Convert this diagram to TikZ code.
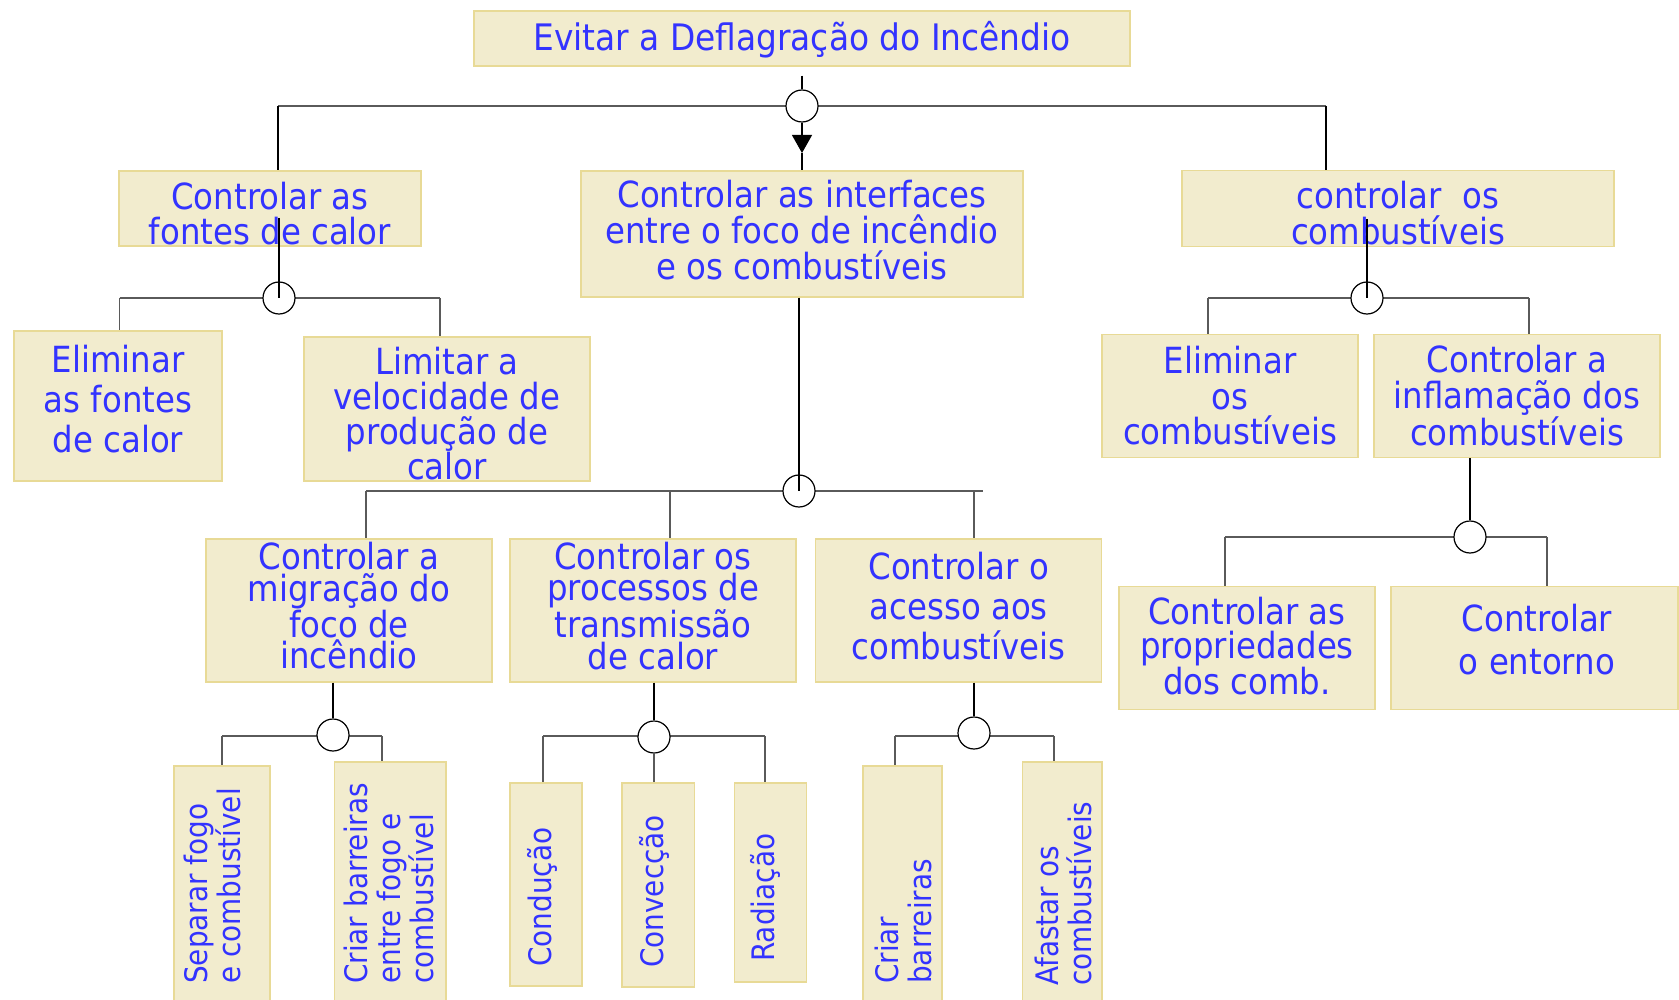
\documentclass[tikz,border=0pt]{standalone}
\usepackage{fontspec}
\newfontfamily\boxfont[FakeStretch=0.9]{DejaVu Sans}
\usetikzlibrary{arrows.meta}
\definecolor{boxfill}{RGB}{242,236,206}
\definecolor{boxline}{RGB}{232,218,150}
\definecolor{txtblue}{RGB}{51,51,255}
\definecolor{barcol}{RGB}{90,90,90}
\newcommand\boxsize[2]{\boxfont\fontsize{#1}{#2}\selectfont}

\begin{document}
\begin{tikzpicture}[x=1pt,y=-1pt,
  task/.style={draw=boxline,fill=boxfill,line width=1.2pt,inner sep=0pt},
  txt/.style={text=txtblue,align=center,inner sep=0pt},
  vtxt/.style={text=txtblue,align=left,inner sep=0pt,rotate=90,anchor=west,font=\boxsize{31}{33}},
  junc/.style={circle,draw,fill=white,line width=1.2pt,minimum size=32pt,inner sep=0pt},
  link/.style={line width=1.2pt},
  bar/.style={draw=barcol,line width=2pt},
  drop/.style={draw=barcol,line width=1.4pt}]
\useasboundingbox (0,0) rectangle (1679,1000);

\node[task,minimum width=656,minimum height=55] (top) at (802,38.5) {};
\node[task,minimum width=302,minimum height=75] (fontes) at (270,208.5) {};
\node[task,minimum width=208,minimum height=150] (elimfontes) at (118,406) {};
\node[task,minimum width=286,minimum height=144] (limitar) at (447,409) {};
\node[task,minimum width=442,minimum height=126] (interf) at (802,234) {};
\node[task,minimum width=432,minimum height=75.5] (comb) at (1398,208.5) {};
\node[task,minimum width=256,minimum height=123] (elimcomb) at (1230,396.2) {};
\node[task,minimum width=286,minimum height=123] (inflam) at (1517,396.2) {};
\node[task,minimum width=256,minimum height=123] (propr) at (1247,647.9) {};
\node[task,minimum width=287,minimum height=123] (entorno) at (1534.5,647.9) {};
\node[task,minimum width=286,minimum height=143] (migr) at (349,610.5) {};
\node[task,minimum width=286,minimum height=143] (transm) at (653,610.5) {};
\node[task,minimum width=286,minimum height=143] (acesso) at (958.7,610.5) {};
\node[task,minimum width=96,minimum height=238] (separar) at (222,885) {};
\node[task,minimum width=111.5,minimum height=242] (criarbar) at (390.25,883) {};
\node[task,minimum width=72,minimum height=203] (conducao) at (546,884.5) {};
\node[task,minimum width=72.5,minimum height=204] (conveccao) at (658.25,885) {};
\node[task,minimum width=72,minimum height=199] (radiacao) at (770.6,882.5) {};
\node[task,minimum width=79,minimum height=238] (barreiras) at (902.5,885) {};
\node[task,minimum width=79.6,minimum height=242] (afastar) at (1062.2,883) {};

\node[txt,font=\boxsize{36.5}{40}] (top-t) at (802,40) {Evitar a Deflagração do Incêndio};
\node[txt,font=\boxsize{36}{35}] (fontes-t) at (270,213.8) {Controlar as\\fontes de calor};
\node[txt,font=\boxsize{36}{40}] (elimfontes-t) at (118,399.3) {Eliminar\\as fontes\\de calor};
\node[txt,font=\boxsize{36}{35}] (limitar-t) at (447,413.8) {Limitar a\\velocidade de\\produção de\\calor};
\node[txt,font=\boxsize{36}{36}] (interf-t) at (802,230.3) {Controlar as interfaces\\entre o foco de incêndio\\e os combustíveis};
\node[txt,font=\boxsize{36}{35.6}] (comb-t) at (1398,213.3) {controlar\ \ os\\combustíveis};
\node[txt,font=\boxsize{36}{35.6}] (elimcomb-t) at (1230,395.7) {Eliminar\\os\\combustíveis};
\node[txt,font=\boxsize{36}{35.6}] (inflam-t) at (1517,395.7) {Controlar a\\inflamação dos\\combustíveis};
\node[txt,font=\boxsize{36}{34.7}] (propr-t) at (1247,646) {Controlar as\\propriedades\\dos comb.};
\node[txt,font=\boxsize{36}{42.8}] (entorno-t) at (1537,639.7) {Controlar\\o entorno};
\node[txt,font=\boxsize{36}{31.7}] (migr-t) at (349,605.8) {Controlar a\\migração do\\foco de\\incêndio};
\node[txt,font=\boxsize{36}{31.7}] (transm-t) at (653,605.8) {Controlar os\\processos de\\transmissão\\de calor};
\node[txt,font=\boxsize{36}{40}] (acesso-t) at (958.7,606.3) {Controlar o\\acesso aos\\combustíveis};

\node[vtxt] (separar-t) at (212,984) {Separar fogo\\e combustível};
\node[vtxt] (criarbar-t) at (389,984) {Criar barreiras\\entre fogo e\\combustível};
\node[vtxt] (conducao-t) at (542,967) {Condução};
\node[vtxt] (conveccao-t) at (654,968) {Convecção};
\node[vtxt] (radiacao-t) at (765,962) {Radiação};
\node[vtxt] (barreiras-t) at (903,984) {Criar\\barreiras};
\node[vtxt] (afastar-t) at (1063,986) {Afastar os\\combustíveis};

\coordinate (a0l) at (278,106);
\coordinate (a0r) at (1326,106);
\coordinate (a1l) at (119.5,298);
\coordinate (a1r) at (440,298);
\coordinate (a2l) at (1208,298);
\coordinate (a2r) at (1529,298);
\coordinate (a3l) at (366,491);
\coordinate (a3m) at (670,491);
\coordinate (a3k) at (974,491);
\coordinate (a3r) at (983,491);
\coordinate (a4l) at (1225,537);
\coordinate (a4r) at (1547,537);
\coordinate (a5l) at (222,736);
\coordinate (a5r) at (382,736);
\coordinate (a6l) at (543,736);
\coordinate (a6r) at (765,736);
\coordinate (a7l) at (895,736);
\coordinate (a7r) at (1054,736);
\coordinate (k1) at (279,218);
\coordinate (k2) at (1367,218.8);
\coordinate (tip) at (802,153);

\draw[bar] (a0l) -- (a0r);
\draw[link] (a0l) -- (a0l |- fontes.north);
\draw[link] (a0r) -- (a0r |- comb.north);
\draw[bar] (a1l) -- (a1r);
\draw[drop] (a1l) -- (a1l |- elimfontes.north);
\draw[drop] (a1r) -- (a1r |- limitar.north);
\draw[bar] (a2l) -- (a2r);
\draw[drop] (a2l) -- (a2l |- elimcomb.north);
\draw[drop] (a2r) -- (a2r |- inflam.north);
\draw[bar] (a3l) -- (a3r);
\draw[drop] (a3l) -- (a3l |- migr.north);
\draw[drop] (a3m) -- (a3m |- transm.north);
\draw[drop] (a3k) -- (a3k |- acesso.north);
\draw[bar] (a4l) -- (a4r);
\draw[drop] (a4l) -- (a4l |- propr.north);
\draw[drop] (a4r) -- (a4r |- entorno.north);
\draw[bar] (a5l) -- (a5r);
\draw[drop] (a5l) -- (a5l |- separar.north);
\draw[drop] (a5r) -- (a5r |- criarbar.north);
\draw[bar] (a6l) -- (a6r);
\draw[drop] (a6l) -- (a6l |- conducao.north);
\draw[drop] (a6r) -- (a6r |- radiacao.north);
\draw[bar] (a7l) -- (a7r);
\draw[drop] (a7l) -- (a7l |- barreiras.north);
\draw[drop] (a7r) -- (a7r |- afastar.north);

\node[junc] (j0) at (802,106) {};
\node[junc] (j1) at (279,298) {};
\node[junc] (j2) at (1367,298) {};
\node[junc] (j3) at (799,491) {};
\node[junc] (j4) at (1470,537) {};
\node[junc] (j5) at (333,735) {};
\node[junc] (j6) at (654,737) {};
\node[junc] (j7) at (974,733) {};

\draw[link,shorten <=9pt] (top.south) -- (j0.north);
\draw[link,-{Triangle[length=18pt,width=20pt]}] (j0.south) -- (tip);
\draw[link] (tip) -- (interf.north);
\draw[link] (k1) -- (j1.center);
\draw[link] (k2) -- (j2.center);
\draw[link] (interf.south -| j3) -- (j3.center);
\draw[link] (inflam.south -| j4) -- (j4.north);
\draw[link] (migr.south -| j5) -- (j5.north);
\draw[link] (transm.south -| j6) -- (j6.north);
\draw[link] (acesso.south -| j7) -- (j7.north);
\draw[drop] (j6.south) -- (j6 |- conveccao.north);
\end{tikzpicture}
\end{document}
